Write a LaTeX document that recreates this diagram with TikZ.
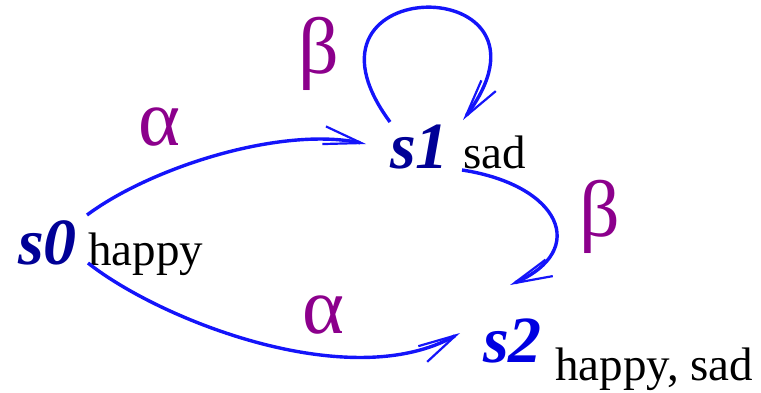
\documentclass[tikz,border=0pt]{standalone}
\usepackage{fontspec}
\setmainfont{Liberation Serif}
\newfontfamily\timesfont{Liberation Serif}
\usetikzlibrary{arrows.meta,calc}
\definecolor{stdark}{RGB}{0,0,150}
\definecolor{stbright}{RGB}{0,0,225}
\definecolor{edgeblue}{RGB}{20,20,250}
\definecolor{lblpurple}{RGB}{140,0,140}
\begin{document}
\begin{tikzpicture}[x=1pt,y=-1pt,
  state/.style={inner sep=0pt,anchor=base west,font=\timesfont\fontsize{66}{70}\selectfont\bfseries\itshape},
  prop/.style={inner sep=0pt,anchor=base west,font=\timesfont\fontsize{47}{52}\selectfont,text=black},
  greek/.style={inner sep=0pt,anchor=center,text=lblpurple,font=\timesfont\fontsize{80}{84}\selectfont},
  edge/.style={draw=edgeblue,line width=3.4pt,
    -{Straight Barb[length=38pt,width=18pt,line width=2.2pt]}}]
\useasboundingbox (0,0) rectangle (761,392);
% states
\node[state,text=stdark] (s0) at (18,264) {s0};
\node[state,text=stdark] (s1) at (390,168) {s1};
\node[state,text=stbright] (s2) at (483,362) {s2};
% propositions
\node[prop] (p0) at (88,265) {happy};
\node[prop] (p1) at (463,168) {sad};
\node[prop] (p2) at (555,380) {happy, sad};
% labels
\node[greek] (a1) at (159,127) {α};
\node[greek] (a2) at (323,315) {α};
\node[greek] (b1) at (319,54) {β};
\node[greek] (b2) at (600,217) {β};
% edges
\draw[edge] ($(p0.base west)+(-1,-50)$) .. controls (150,168) and (280,126) .. ($(s1.base west)+(-24,-24)$);
\draw[edge] ($(p0.base west)+(0,-2)$) .. controls (160,320) and (350,395) .. ($(s2.base west)+(-23,-29)$);
\draw[edge] ($(p1.base west)+(-1,2)$) .. controls (560,185) and (590,250) .. ($(s2.base west)+(27,-77)$);
\draw[edge] ($(s1.base west)+(0,-46)$) .. controls (278,-30) and (575,-30) .. ($(p1.base west)+(0,-48)$);
\end{tikzpicture}
\end{document}
